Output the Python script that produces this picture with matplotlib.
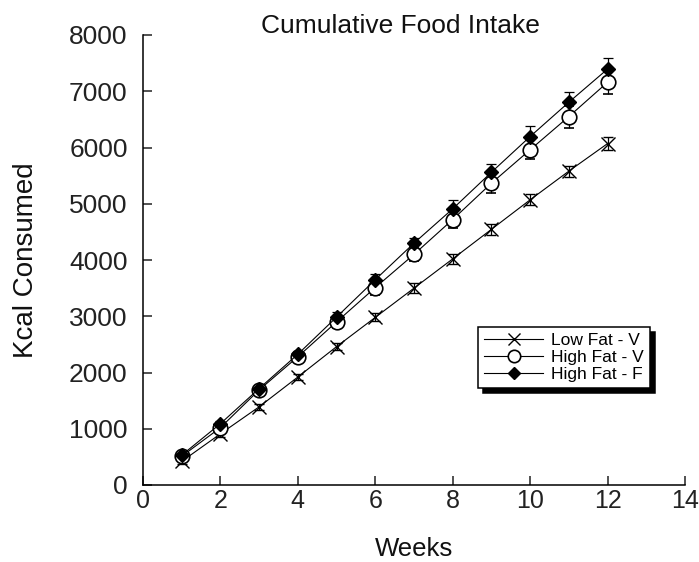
import matplotlib
matplotlib.use("Agg")
import matplotlib.pyplot as plt

plt.rcParams['font.family'] = ['Liberation Sans', 'DejaVu Sans']

weeks = [1, 2, 3, 4, 5, 6, 7, 8, 9, 10, 11, 12]

low_fat_v = [420, 910, 1390, 1920, 2460, 2980, 3500, 4020, 4545, 5070, 5580, 6070]
low_fat_v_err = [40, 50, 50, 60, 60, 70, 85, 90, 95, 100, 100, 120]

high_fat_v = [510, 1020, 1690, 2280, 2900, 3510, 4100, 4720, 5365, 5960, 6550, 7160]
high_fat_v_err = [50, 60, 60, 70, 100, 130, 125, 150, 165, 170, 195, 210]

high_fat_f = [530, 1090, 1715, 2325, 2985, 3650, 4300, 4910, 5560, 6195, 6805, 7395]
high_fat_f_err = [45, 50, 55, 65, 90, 100, 95, 150, 150, 183, 190, 195]

labels = ["Low Fat - V", "High Fat - V", "High Fat - F"]

W, H = 699, 562
fig = plt.figure(figsize=(W / 100, H / 100), dpi=100)
ax = fig.add_axes([143 / W, 1 - 485 / H, (685 - 143) / W, (485 - 35) / H])

common = dict(color='black', linewidth=0.8, elinewidth=0.9, capsize=3.6, capthick=0.9)
ax.errorbar(weeks, low_fat_v, yerr=low_fat_v_err, marker='x', markersize=9.5,
            markeredgewidth=1.0, label=labels[0], **common)
ax.errorbar(weeks, high_fat_v, yerr=high_fat_v_err, marker='o', markersize=10.5,
            markerfacecolor='white', markeredgewidth=1.2, label=labels[1], **common)
ax.errorbar(weeks, high_fat_f, yerr=high_fat_f_err, marker='D', markersize=7.3,
            markerfacecolor='black', label=labels[2], **common)

ax.set_xlim(0, 14)
ax.set_ylim(0, 8000)
ax.set_xticks(range(0, 15, 2))
ax.set_yticks(range(0, 8001, 1000))
ax.spines['top'].set_visible(False)
ax.spines['right'].set_visible(False)
for s in ('left', 'bottom'):
    ax.spines[s].set_linewidth(1.1)
ax.tick_params(direction='in', length=6.5, width=1.1, colors='#222222')
ax.tick_params(axis='x', labelsize=18, pad=3)
ax.tick_params(axis='y', labelsize=19, pad=11)

fig.text(400 / W, 1 - 33 / H, "Cumulative Food Intake", fontsize=19,
         ha='center', va='baseline', color='#111111')
fig.text(414 / W, 1 - 549 / H, "Weeks", fontsize=18.5, ha='center', va='center',
         color='#111111')
fig.text(26 / W, 1 - 260 / H, "Kcal Consumed", fontsize=20, rotation=90,
         ha='center', va='center', color='#111111')

handles, lbls = ax.get_legend_handles_labels()
handles = [h[0] for h in handles]
leg = ax.legend(handles, lbls, loc='upper left', bbox_to_anchor=(0.618, 0.351),
                frameon=True, fancybox=False, edgecolor='black',
                shadow={'color': 'black', 'alpha': 1, 'ox': 3.6, 'oy': -3.6},
                fontsize=12.5, handlelength=3.4, handletextpad=0.45, labelspacing=0.1,
                borderpad=0.35, borderaxespad=0, framealpha=1, markerscale=0.85)
leg.get_frame().set_linewidth(1.1)

fig.savefig("out.png", dpi=100)
